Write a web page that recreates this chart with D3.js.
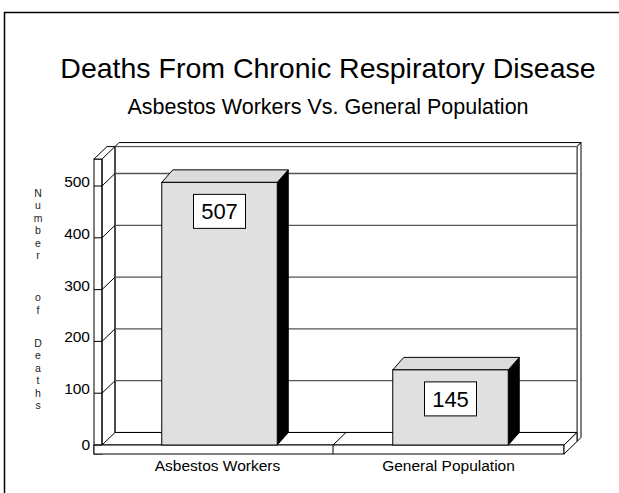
<!DOCTYPE html>
<html lang="en">
<head>
  <meta charset="UTF-8">
  <title>Deaths From Chronic Respiratory Disease</title>
  <script src="https://d3js.org/d3.v7.min.js"></script>
  <style>
    body { margin: 0; background: #fff; }
    svg { display: block; font-family: "Liberation Sans", Arial, Helvetica, sans-serif; }
  </style>
</head>
<body>
  <div id="chart"></div>

  <script>
    // chart data
    const categories = ['Asbestos Workers', 'General Population'];
    const deaths = [507, 145];
    const yTicks = [0, 100, 200, 300, 400, 500];
    const yTitleWords = ['Number', 'of', 'Deaths'];

    const W = 619, H = 493;
    const svg = d3.select('#chart').append('svg')
      .attr('width', W)
      .attr('height', H);

    // outer frame (only top and left show in the window)
    svg.append('rect')
      .attr('x', 4.5).attr('y', 12.5)
      .attr('width', 700).attr('height', 600)
      .attr('fill', 'none')
      .attr('stroke', '#000')
      .attr('stroke-width', 1.5);

    // titles
    svg.append('text')
      .attr('x', 328).attr('y', 78)
      .attr('text-anchor', 'middle')
      .attr('font-size', '28.5px')
      .text('Deaths From Chronic Respiratory Disease');
    svg.append('text')
      .attr('x', 328).attr('y', 114)
      .attr('text-anchor', 'middle')
      .attr('font-size', '21.5px')
      .text('Asbestos Workers Vs. General Population');

    // scales
    const x = d3.scaleBand().domain(categories).range([102, 564]).padding(0);
    const y = d3.scaleLinear().domain([0, 500]).range([445, 186]);
    const yTop = y(552);

    // 3d offsets
    const ddx = 13, ddy = -12.5;
    const backL = 102 + ddx, backR = 564 + ddx;
    const y0 = y(0), slab = 9;

    const g = svg.append('g');

    // back wall edge (thin rim on top and right)
    g.append('polygon')
      .attr('points', [[backL, yTop + ddy], [backR, yTop + ddy], [backR + 4, yTop + ddy - 4], [backL + 4, yTop + ddy - 4]].join(' '))
      .attr('fill', '#fff').attr('stroke', '#000').attr('stroke-width', 1);
    g.append('polygon')
      .attr('points', [[backR, yTop + ddy], [backR + 4, yTop + ddy - 4], [backR + 4, y0 + ddy + slab - 4], [backR, y0 + ddy + slab]].join(' '))
      .attr('fill', '#fff').attr('stroke', '#000').attr('stroke-width', 1);

    // back wall
    g.append('rect')
      .attr('x', backL).attr('y', yTop + ddy)
      .attr('width', backR - backL).attr('height', y0 - yTop)
      .attr('fill', '#fff')
      .attr('stroke', '#555').attr('stroke-width', 1.2);
    g.append('line')
      .attr('x1', backL).attr('x2', backL)
      .attr('y1', yTop + ddy).attr('y2', y0 + ddy)
      .attr('stroke', '#000');

    // gridlines on back wall + diagonals on left wall
    yTicks.filter(d => d > 0).forEach(d => {
      g.append('line')
        .attr('x1', backL).attr('x2', backR)
        .attr('y1', y(d) + ddy).attr('y2', y(d) + ddy)
        .attr('stroke', '#555').attr('stroke-width', 1.3);
      g.append('line')
        .attr('x1', 102).attr('y1', y(d))
        .attr('x2', backL).attr('y2', y(d) + ddy)
        .attr('stroke', '#000').attr('stroke-width', 1);
    });

    // left pillar front face
    g.append('rect')
      .attr('x', 94).attr('y', yTop)
      .attr('width', 8).attr('height', y0 + slab - yTop)
      .attr('fill', '#fff').attr('stroke', '#000').attr('stroke-width', 1);
    // left pillar top face
    g.append('polygon')
      .attr('points', [[94, yTop], [102, yTop], [backL, yTop + ddy], [94 + ddx, yTop + ddy]].join(' '))
      .attr('fill', '#fff').attr('stroke', '#000').attr('stroke-width', 1);
    g.append('line')
      .attr('x1', 102).attr('y1', yTop)
      .attr('x2', 102).attr('y2', y0 + slab)
      .attr('stroke', '#000');

    // floor top face
    g.append('polygon')
      .attr('points', [[102, y0], [564, y0], [backR, y0 + ddy], [backL, y0 + ddy]].join(' '))
      .attr('fill', '#fff').attr('stroke', '#000').attr('stroke-width', 1);
    // floor front slab
    g.append('rect')
      .attr('x', 94).attr('y', y0)
      .attr('width', 564 - 94).attr('height', slab)
      .attr('fill', '#fff').attr('stroke', '#000').attr('stroke-width', 1);
    // floor right side
    g.append('polygon')
      .attr('points', [[564, y0], [backR, y0 + ddy], [backR, y0 + ddy + slab], [564, y0 + slab]].join(' '))
      .attr('fill', '#fff').attr('stroke', '#000').attr('stroke-width', 1);
    // category divider on floor
    categories.slice(1).forEach(c => {
      const bx = x(c);
      g.append('line')
        .attr('x1', bx).attr('y1', y0 + slab)
        .attr('x2', bx).attr('y2', y0)
        .attr('stroke', '#000');
      g.append('line')
        .attr('x1', bx).attr('y1', y0)
        .attr('x2', bx + ddx).attr('y2', y0 + ddy)
        .attr('stroke', '#000');
    });

    // tick marks on pillar and labels
    yTicks.forEach(d => {
      g.append('line')
        .attr('x1', 94).attr('x2', 102)
        .attr('y1', y(d)).attr('y2', y(d))
        .attr('stroke', '#000');
      g.append('text')
        .attr('x', 90).attr('y', y(d) + (d === 0 ? 5 : 1))
        .attr('text-anchor', 'end')
        .attr('font-size', '15.5px')
        .text(d);
    });

    // y axis title, stacked letters
    const lineStep = 12.4;
    const wordGap = [0, 3.4, 2.7];
    let idx = 0;
    yTitleWords.forEach((word, wi) => {
      if (wi > 0) idx += wordGap[wi] - 1;
      word.split('').forEach(ch => {
        svg.append('text')
          .attr('x', 38).attr('y', 197 + idx * lineStep)
          .attr('text-anchor', 'middle')
          .attr('font-size', '10.5px')
          .attr('fill', '#222')
          .text(ch);
        idx += 1;
      });
    });

    // bars
    const bdx = 11, bdy = -12.5;
    const barW = x.bandwidth() * 0.5;
    categories.forEach((c, i) => {
      const x0 = x(c) + (x.bandwidth() - barW) / 2 + 2;
      const x1 = x0 + barW;
      const top = y(deaths[i]);
      const bar = svg.append('g');
      bar.append('polygon')
        .attr('points', [[x1, top], [x1 + bdx, top + bdy], [x1 + bdx, y0 + bdy], [x1, y0]].join(' '))
        .attr('fill', '#000').attr('stroke', '#000').attr('stroke-width', 1);
      bar.append('polygon')
        .attr('points', [[x0, top], [x1, top], [x1 + bdx, top + bdy], [x0 + bdx, top + bdy]].join(' '))
        .attr('fill', '#dcdcdc').attr('stroke', '#000').attr('stroke-width', 1);
      bar.append('rect')
        .attr('x', x0).attr('y', top)
        .attr('width', barW).attr('height', y0 - top)
        .attr('fill', '#e0e0e0').attr('stroke', '#000').attr('stroke-width', 1);

      // value box
      const cx = x0 + barW / 2;
      bar.append('rect')
        .attr('x', cx - 26).attr('y', top + 12)
        .attr('width', 52).attr('height', 34)
        .attr('fill', '#fff').attr('stroke', '#000').attr('stroke-width', 1);
      bar.append('text')
        .attr('x', cx).attr('y', top + 37)
        .attr('text-anchor', 'middle')
        .attr('font-size', '22px')
        .text(deaths[i]);

      // category label
      svg.append('text')
        .attr('x', x(c) + x.bandwidth() / 2).attr('y', 471)
        .attr('text-anchor', 'middle')
        .attr('font-size', '15.5px')
        .text(c);
    });
  </script>
</body>
</html>
